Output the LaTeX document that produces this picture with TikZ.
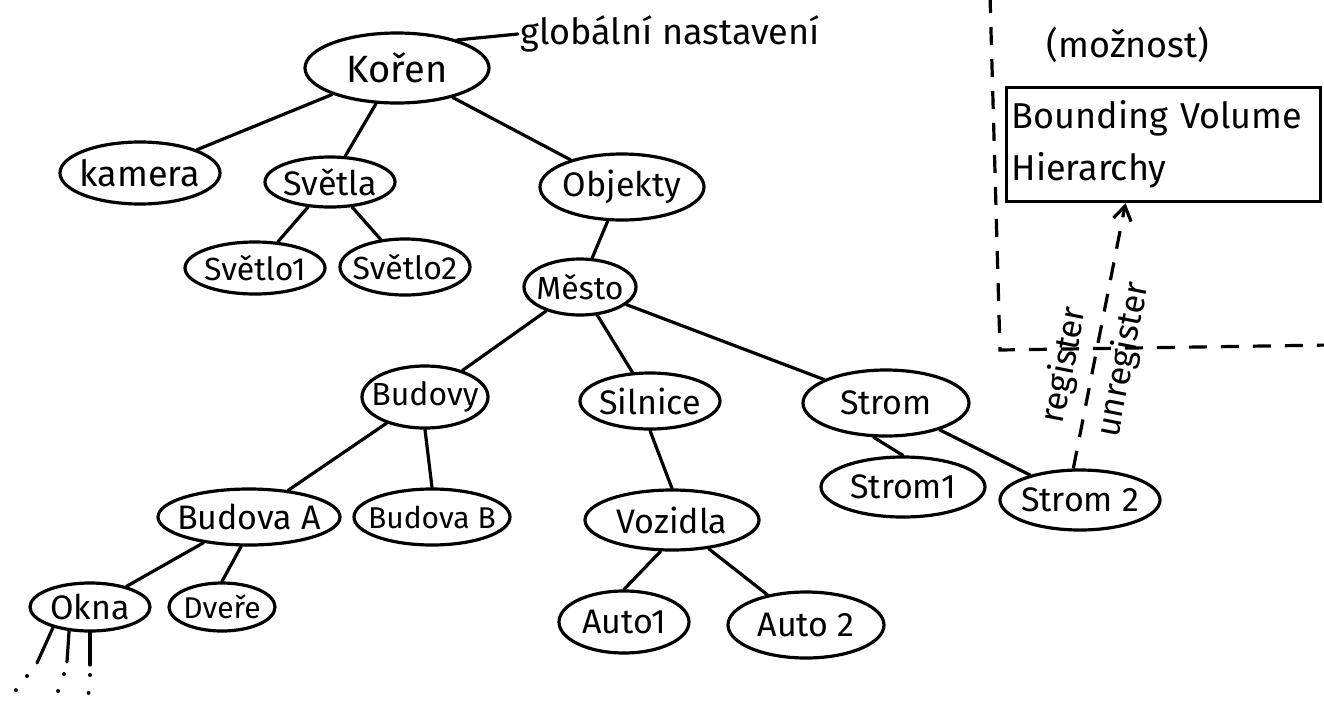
\documentclass[tikz,border=0pt]{standalone}
\usepackage{fontspec}
\setmainfont{Fira Sans}
\usetikzlibrary{shapes.geometric,arrows.meta,calc}
% node text that does not widen its ellipse
\newcommand\tx[1]{\makebox[0pt]{#1}}
\begin{document}
\begin{tikzpicture}[x=0.5pt,y=-0.5pt,
  blob/.style={ellipse, draw, line width=1.6pt, inner sep=0pt,
    font=\fontsize{17}{19}\selectfont},
  link/.style={line width=1.6pt, line cap=round},
  dashline/.style={line width=1.6pt, dash pattern=on 9pt off 7pt},
  note/.style={font=\fontsize{17}{19}\selectfont, inner sep=1pt}]
\useasboundingbox (0,0) rectangle (1324,703);

% scene graph nodes
\node[blob, minimum width=92pt, minimum height=35pt, font=\fontsize{19}{21}\selectfont] (koren) at (397,68) {\tx{Kořen}};
\node[blob, minimum width=80pt, minimum height=31pt, font=\fontsize{18}{20}\selectfont] (kamera) at (140,173) {\tx{kamera}};
\node[blob, minimum width=65pt, minimum height=25pt] (svetla) at (330,182) {\tx{Světla}};
\node[blob, minimum width=70pt, minimum height=26pt, font=\fontsize{16}{18}\selectfont] (svetlo1) at (255,268) {\tx{Světlo1}};
\node[blob, minimum width=65pt, minimum height=28pt, font=\fontsize{16}{18}\selectfont] (svetlo2) at (405,267) {\tx{Světlo2}};
\node[blob, minimum width=82pt, minimum height=33pt] (objekty) at (622,187) {\tx{Objekty}};
\node[blob, minimum width=56pt, minimum height=28pt, font=\fontsize{16}{18}\selectfont] (mesto) at (580,287) {\tx{Město}};
\node[blob, minimum width=63pt, minimum height=31pt, font=\fontsize{16}{18}\selectfont] (budovy) at (425,397) {\tx{Budovy}};
\node[blob, minimum width=70pt, minimum height=28pt] (silnice) at (650,401) {\tx{Silnice}};
\node[blob, minimum width=83pt, minimum height=33pt] (strom) at (886,403) {\tx{Strom}};
\node[blob, minimum width=91pt, minimum height=28pt] (budovaA) at (249,517) {\tx{Budova A}};
\node[blob, minimum width=78pt, minimum height=28pt, font=\fontsize{15}{17}\selectfont] (budovaB) at (432,517) {\tx{Budova B}};
\node[blob, minimum width=87pt, minimum height=30pt] (vozidla) at (672,520) {\tx{Vozidla}};
\node[blob, minimum width=82pt, minimum height=30pt] (strom1) at (903,487) {\tx{Strom1}};
\node[blob, minimum width=80pt, minimum height=30pt] (strom2) at (1080,500) {\tx{Strom 2}};
\node[blob, minimum width=60pt, minimum height=24pt] (okna) at (90,607) {\tx{Okna}};
\node[blob, minimum width=53pt, minimum height=24pt, font=\fontsize{15}{17}\selectfont] (dvere) at (222,607) {\tx{Dveře}};
\node[blob, minimum width=65pt, minimum height=31pt] (auto1) at (624,622) {\tx{Auto1}};
\node[blob, minimum width=78pt, minimum height=33pt] (auto2) at (806,625) {\tx{Auto 2}};

% note attached to the root
\node[note, anchor=west, font=\fontsize{18}{20}\selectfont] (glob) at (518,34) {globální nastavení};
\draw[link] (koren.25) -- (glob.west);

% tree edges
\draw[link] (koren) -- (kamera);
\draw[link] (koren) -- (svetla);
\draw[link] (koren) -- (objekty);
\draw[link] (svetla) -- (svetlo1);
\draw[link] (svetla) -- (svetlo2);
\draw[link] (objekty) -- (mesto);
\draw[link] (mesto) -- (budovy);
\draw[link] (mesto) -- (silnice);
\draw[link] (mesto) -- (strom);
\draw[link] (budovy) -- (budovaA);
\draw[link] (budovy.south) -- (budovaB.north);
\draw[link] (silnice.south) -- (vozidla.north);
\draw[link] (strom.-110) -- (strom1.north);
\draw[link] (strom) -- (strom2);
\draw[link] (budovaA) -- (okna);
\draw[link] (budovaA.-105) -- (dvere.north);
\draw[link] (vozidla.-110) -- (auto1.north);
\draw[link] (vozidla) -- (auto2);

% further children of Okna, left open
\coordinate (w1) at (37,663);
\coordinate (w2) at (67,662);
\coordinate (w3) at (90,665);
\coordinate (w1e) at (8,700);
\coordinate (w2e) at (55,700);
\coordinate (w3e) at (88,700);
\draw[link] (okna.-151) -- (w1);
\draw[link] (okna.-131) -- (w2);
\draw[link] (okna.-90) -- (w3);
\draw[line width=2pt, line cap=round, dash pattern=on 0pt off 9pt] (w1) ++(-10,13) -- (w1e);
\draw[line width=2pt, line cap=round, dash pattern=on 0pt off 9pt] (w2) ++(-3,12) -- (w2e);
\draw[line width=2pt, line cap=round, dash pattern=on 0pt off 9pt] (w3) ++(0,10) -- (w3e);

% separate subsystem region
\coordinate (regtop) at (990,-5);
\coordinate (regcorner) at (1000,350);
\coordinate (regright) at (1330,345);
\draw[dashline] (regtop) -- (regcorner) -- (regright);

\node[note, font=\fontsize{18}{20}\selectfont] (moznost) at (1128,45) {(možnost)};
\node[draw, line width=1.6pt, anchor=north west, minimum width=157pt, minimum height=57pt,
  align=left, text width=152pt, inner sep=2pt, font=\fontsize{18}{26}\selectfont]
  (bvh) at (1005,86) {Bounding Volume\\Hierarchy};

\coordinate (bvhin) at ($(bvh.south west)!0.38!(bvh.south east)$);
\draw[dashline, -{Straight Barb[length=7pt,width=9pt]}] (strom2.102) -- (bvhin)
  node[note, pos=0.37, sloped, above=4pt] (reg) {register}
  node[note, pos=0.43, sloped, below=4pt] (unreg) {unregister};
\end{tikzpicture}
\end{document}
